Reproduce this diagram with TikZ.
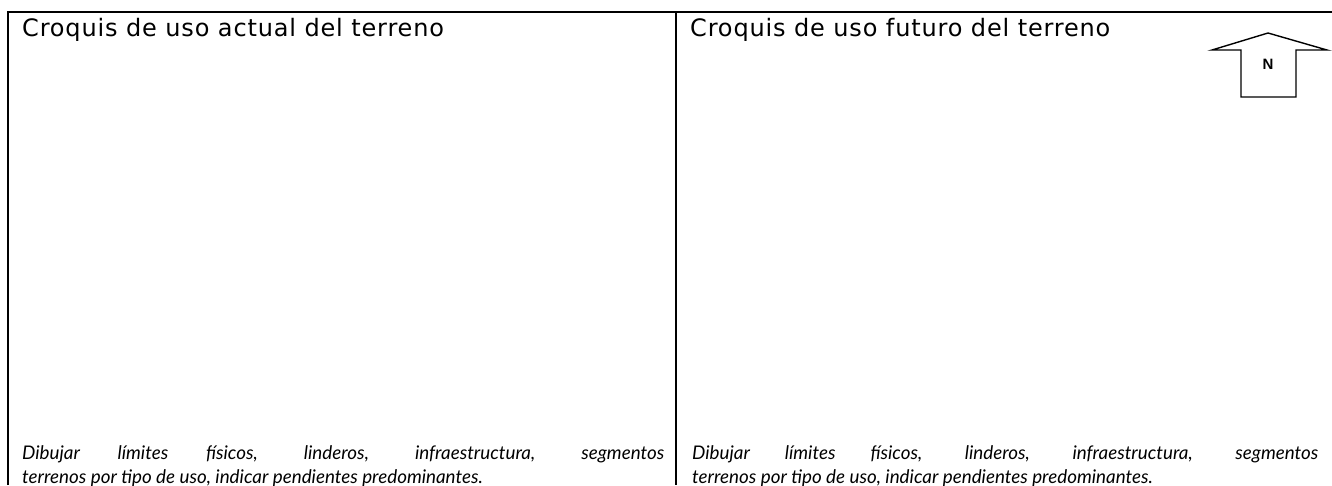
\documentclass[tikz,border=0pt]{standalone}
\usepackage{fontspec}
\setmainfont{Lato}
\newfontfamily\headfont[LetterSpace=3.5]{DejaVu Sans}
\newfontfamily\markfont{Liberation Sans}
\usetikzlibrary{positioning}

\begin{document}
\begin{tikzpicture}[x=1pt,y=-1pt,
        frame/.style={line width=2pt},
        title/.style={anchor=base west,inner sep=0pt,font=\headfont\fontsize{24}{28}\selectfont},
        note/.style={anchor=north west,inner sep=0pt,align=justify,
          font=\fontsize{18.8}{24}\selectfont\itshape}]
        \useasboundingbox (0,0) rectangle (1332,485);
        % table lines
        \draw[frame] (8,485) -- (8,12) -- (1332,12);
        \draw[frame] (676,12) -- (676,485);
        % headings
        \node[title] (t_1) at (22,36) {Croquis de uso actual del terreno};
        \node[title] (t_2) at (690,36) {Croquis de uso futuro del terreno};
        % notes
        \node[note,text width=642pt] (n_1) at (22,445) {Dibujar límites físicos, linderos, infraestructura, segmentos\linebreak terrenos por tipo de uso, indicar pendientes predominantes.};
        \node[note,text width=626pt] (n_2) at (692,445) {Dibujar límites físicos, linderos, infraestructura, segmentos\linebreak terrenos por tipo de uso, indicar pendientes predominantes.};
        % north arrow
        \coordinate (a_tip) at (1268,33);
        \coordinate (a_l) at (1212,50);
        \coordinate (a_r) at (1327,50);
        \draw[line width=1.4pt,line join=miter] (a_l) -- (a_tip) -- (a_r) -- (1296,50) -- (1296,97)
          -- (1241,97) -- (1241,50) -- cycle;
        \node[font=\markfont\fontsize{15}{17}\selectfont\bfseries] (n) at (1268,64) {N};
\end{tikzpicture}
\end{document}
